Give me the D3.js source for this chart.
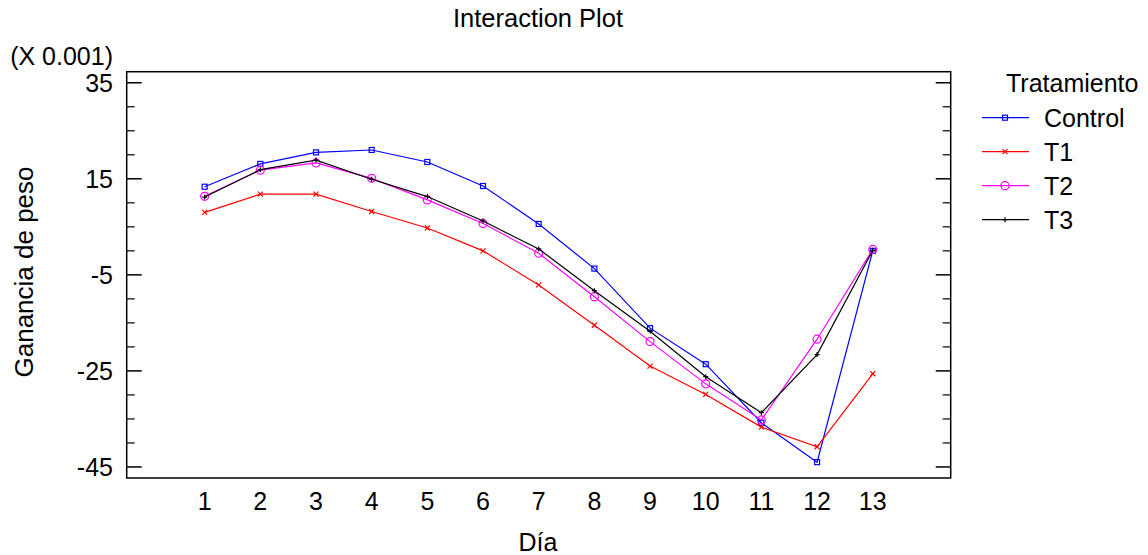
<!DOCTYPE html>
<html><head><meta charset="utf-8">
<script src="https://cdn.jsdelivr.net/npm/d3@7"></script>
<style>
body{margin:0;background:#fff;}
text{font-family:"Liberation Sans",Arial,sans-serif;fill:#000;}
</style></head>
<body><svg id="c" width="1148" height="555"></svg>
<script>
const days = [1,2,3,4,5,6,7,8,9,10,11,12,13];
const seriesNames = ["Control","T1","T2","T3"];
const control = [13.35,18.1,20.5,21.0,18.5,13.5,5.6,-3.7,-16.1,-23.6,-35.8,-44.0,0.0];
const t1 = [8.0,11.8,11.8,8.2,4.75,0.0,-7.1,-15.5,-24.0,-29.9,-36.7,-40.8,-25.6];
const t2 = [11.35,16.8,18.3,15.1,10.6,5.7,-0.5,-9.55,-18.9,-27.7,-35.2,-18.4,0.3];
const t3 = [11.2,16.9,18.9,14.9,11.3,6.2,0.4,-8.3,-16.75,-26.2,-33.7,-21.6,0.1];
const yMajorTicks = [35,15,-5,-25,-45];
const yMinorTicks = [30,25,20,10,5,0,-10,-15,-20,-30,-35,-40];

const colors = ["#0000ff","#ff0000","#ff00ff","#000000"];
const markers = ["square","x","circle","plus"];
const allSeries = [control,t1,t2,t3];

const svg = d3.select("#c");
const L=126.7, R=950.7, T=71.7, B=478;
const x = d3.scaleLinear().domain([-0.4,14.4]).range([L,R]);
const y = d3.scaleLinear().domain([-47.3,37.3]).range([B,T]);
const FS = "25px";

// title
svg.append("text").attr("x",538).attr("y",27).attr("text-anchor","middle")
  .style("font-size","25.5px").text("Interaction Plot");

// frame
svg.append("rect").attr("x",L).attr("y",T).attr("width",R-L).attr("height",B-T)
  .attr("fill","none").attr("stroke","#000").attr("stroke-width",1.5);

// y ticks (left, inside) and right
const g = svg.append("g");
yMajorTicks.forEach(v=>{
  g.append("line").attr("x1",L).attr("x2",L+15).attr("y1",y(v)).attr("y2",y(v)).attr("stroke","#000").attr("stroke-width",1.5);
  g.append("line").attr("x1",R-15).attr("x2",R).attr("y1",y(v)).attr("y2",y(v)).attr("stroke","#000").attr("stroke-width",1.5);
  g.append("text").attr("x",113).attr("y",y(v)).attr("dy","0.36em").attr("text-anchor","end")
    .style("font-size",FS).text(v);
});
yMinorTicks.forEach(v=>{
  g.append("line").attr("x1",L).attr("x2",L+8).attr("y1",y(v)).attr("y2",y(v)).attr("stroke","#000").attr("stroke-width",1.2);
  g.append("line").attr("x1",R-8).attr("x2",R).attr("y1",y(v)).attr("y2",y(v)).attr("stroke","#000").attr("stroke-width",1.2);
});
svg.append("text").attr("x",113).attr("y",65).attr("text-anchor","end").style("font-size",FS).text("(X 0.001)");

// x tick labels
days.forEach(d=>{
  svg.append("text").attr("x",x(d)).attr("y",510).attr("text-anchor","middle")
    .style("font-size",FS).text(d);
});
svg.append("text").attr("x",538).attr("y",551).attr("text-anchor","middle")
  .style("font-size",FS).text("Día");
svg.append("text").attr("transform","translate(33,272) rotate(-90)")
  .attr("text-anchor","middle").style("font-size","26px").text("Ganancia de peso");

function drawMarker(sel, type, cx, cy, color){
  if(type==="square"){
    sel.append("rect").attr("x",cx-2.5).attr("y",cy-2.5).attr("width",5).attr("height",5)
      .attr("fill","none").attr("stroke",color).attr("stroke-width",1.2);
  } else if(type==="x"){
    sel.append("path").attr("d",`M${cx-2.5},${cy-2.5}L${cx+2.5},${cy+2.5}M${cx-2.5},${cy+2.5}L${cx+2.5},${cy-2.5}`)
      .attr("stroke",color).attr("stroke-width",1.2);
  } else if(type==="circle"){
    sel.append("circle").attr("cx",cx).attr("cy",cy).attr("r",4)
      .attr("fill","none").attr("stroke",color).attr("stroke-width",1.2);
  } else {
    sel.append("path").attr("d",`M${cx-2.5},${cy}L${cx+2.5},${cy}M${cx},${cy-2.5}L${cx},${cy+2.5}`)
      .attr("stroke",color).attr("stroke-width",1.2);
  }
}

const line = d3.line().x((d,i)=>x(days[i])).y(d=>y(d));
allSeries.forEach((s,k)=>{
  const gs = svg.append("g");
  gs.append("path").attr("d",line(s)).attr("fill","none").attr("stroke",colors[k]).attr("stroke-width",1.2);
  s.forEach((v,i)=>drawMarker(gs, markers[k], x(days[i]), y(v), colors[k]));
});

// legend
svg.append("text").attr("x",1006).attr("y",92).style("font-size",FS).text("Tratamiento");
seriesNames.forEach((n,k)=>{
  const ry = 117.7 + k*34;
  svg.append("line").attr("x1",982).attr("x2",1029).attr("y1",ry).attr("y2",ry)
    .attr("stroke",colors[k]).attr("stroke-width",1.2);
  drawMarker(svg, markers[k], 1005, ry, colors[k]);
  svg.append("text").attr("x",1044).attr("y",ry).attr("dy","0.36em").style("font-size",FS).text(n);
});
</script></body></html>
